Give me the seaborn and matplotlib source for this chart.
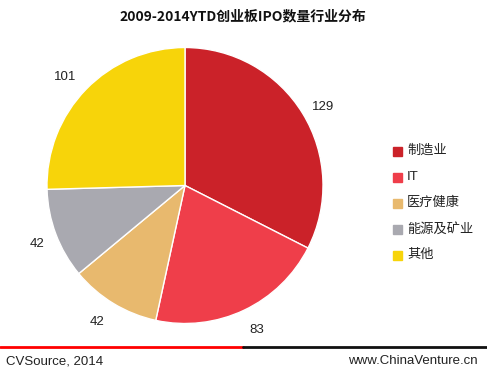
import matplotlib
matplotlib.use("Agg")
import matplotlib.pyplot as plt
import seaborn as sns

# 2009-2014YTD 创业板IPO数量 行业分布
industries = ["制造业", "IT", "医疗健康", "能源及矿业", "其他"]
counts = [129, 83, 42, 42, 101]
colors = ["#CB2229", "#EF3E4A", "#E8B96E", "#A9A9B0", "#F7D40A"]

sns.set_theme(style="white")
plt.rcParams["font.family"] = ["Liberation Sans", "Noto Sans CJK SC", "DejaVu Sans"]

W, H = 487, 380
fig = plt.figure(figsize=(W / 100, H / 100), dpi=100)

# pie: centre (185, 185.5) px, radius 138 px
cx, cy, r = 185, 185.5, 138
ax = fig.add_axes([(cx - r) / W, (H - cy - r) / H, 2 * r / W, 2 * r / H])
wedges, _ = ax.pie(counts, colors=colors, startangle=90, counterclock=False,
                   wedgeprops=dict(edgecolor="white", linewidth=1))
ax.set_xlim(-1, 1)
ax.set_ylim(-1, 1)
ax.set_aspect("equal")
ax.axis("off")

label_pos = [(323, 107), (257, 330), (97, 322), (37, 244), (65, 77)]
for v, (px, py) in zip(counts, label_pos):
    fig.text(px / W, 1 - py / H, str(v), ha="center", va="center", fontsize=9.5,
             color="#222222")

# legend
for i, (name, c) in enumerate(zip(industries, colors)):
    y = 151 + 26 * i
    fig.patches.append(plt.Rectangle((393 / W, 1 - (y + 4.5) / H), 9 / W, 9 / H,
                                     transform=fig.transFigure, color=c))
    fig.text(407 / W, 1 - y / H, name, ha="left", va="center", fontsize=9.5,
             color="#222222")

fig.text(243 / W, 1 - 16 / H, "2009-2014YTD创业板IPO数量行业分布", ha="center",
         va="center", fontsize=10, fontweight="bold", color="#111111",
         family=["Noto Sans CJK SC", "DejaVu Sans"])

# footer
fig.add_artist(plt.Line2D([0, 243 / W], [1 - 347 / H] * 2, color="#FF0000", lw=2))
fig.add_artist(plt.Line2D([243 / W, 1], [1 - 347 / H] * 2, color="#111111", lw=2))
fig.text(6 / W, 1 - 361 / H, "CVSource, 2014", ha="left", va="center", fontsize=9.5,
         color="#222222")
fig.text(478 / W, 1 - 361 / H, "www.ChinaVenture.cn", ha="right", va="center",
         fontsize=9.5, color="#222222")

fig.savefig("out.png", dpi=100)
